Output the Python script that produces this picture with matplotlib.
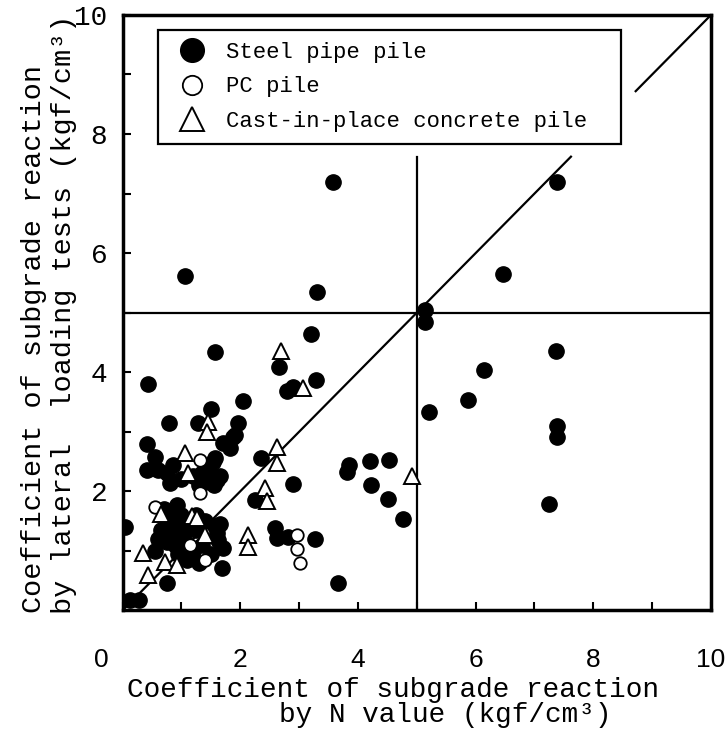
import matplotlib
matplotlib.use("Agg")
import matplotlib.pyplot as plt
from matplotlib.ticker import FixedLocator, FixedFormatter, MultipleLocator

# ---------------- data ----------------
steel_x = [3.58, 7.38, 1.07, 6.47, 3.30, 5.14, 5.14, 7.36, 6.15, 5.87, 5.20, 7.39, 7.39, 7.25,
           4.76, 4.51, 4.23, 4.53, 4.21, 3.84, 3.81, 3.67, 3.27, 2.89, 3.21, 1.57, 2.66, 3.29,
           2.79, 2.89, 2.04, 1.50, 1.97, 1.91, 1.71, 1.83, 1.88, 1.57, 2.35, 2.25, 2.59, 2.62,
           2.82,
           0.44, 0.79, 1.28, 0.41, 0.56, 0.86, 0.42, 0.61, 0.75, 0.81, 0.05, 1.69, 0.75, 0.12,
           0.28, 1.57, 1.63,
           1.20, 1.35, 1.48, 1.60, 1.40, 1.30, 1.55, 1.65, 1.45, 1.54, 1.00,
           0.70, 0.92, 0.85, 1.00, 0.65, 0.80, 0.95, 1.10, 1.25, 0.75, 0.90, 1.05, 1.20, 1.35,
           1.50, 1.30, 0.55, 0.95, 1.10, 1.60, 1.40, 0.60, 1.25, 0.85, 1.70, 1.65]
steel_y = [7.20, 7.20, 5.61, 5.65, 5.35, 5.05, 4.84, 4.35, 4.03, 3.53, 3.33, 3.10, 2.92, 1.78,
           1.54, 1.87, 2.11, 2.53, 2.51, 2.44, 2.33, 0.46, 1.20, 2.12, 4.65, 4.34, 4.09, 3.87,
           3.69, 3.75, 3.52, 3.38, 3.15, 2.95, 2.81, 2.72, 2.92, 2.56, 2.56, 1.86, 1.39, 1.21,
           1.24,
           3.80, 3.14, 3.15, 2.80, 2.57, 2.44, 2.36, 2.36, 2.30, 2.14, 1.40, 0.71, 0.46, 0.18,
           0.18, 1.41, 1.18,
           2.25, 2.30, 2.22, 2.19, 2.15, 2.10, 2.10, 2.25, 2.35, 2.50, 2.20,
           1.70, 1.77, 1.55, 1.60, 1.35, 1.40, 1.35, 1.40, 1.35, 1.15, 1.10, 1.20, 1.00, 1.10,
           0.95, 0.80, 1.00, 0.95, 0.85, 1.30, 1.50, 1.20, 1.60, 1.25, 1.05, 1.45]

pc_x = [0.55, 1.15, 1.32, 1.32, 2.96, 2.96, 3.02, 1.40]
pc_y = [1.74, 1.10, 2.53, 1.97, 1.27, 1.04, 0.79, 0.85]

cip_x = [2.69, 3.07, 1.46, 1.43, 2.63, 2.63, 2.42, 2.45, 2.14, 2.14, 4.92, 1.06, 1.12,
         1.18, 0.35, 0.44, 0.72, 0.92, 1.40, 1.26, 0.65]
cip_y = [4.35, 3.73, 3.17, 3.00, 2.75, 2.47, 2.05, 1.83, 1.27, 1.07, 2.25, 2.64, 2.30,
         1.58, 0.96, 0.60, 0.82, 0.76, 1.27, 1.55, 1.62]

series_labels = ["Steel pipe pile", "PC pile", "Cast-in-place concrete pile"]

x_major = [2, 4, 6, 8, 10]
x_major_labels = ["2", "4", "6", "8", "10"]
y_major = [2, 4, 6, 8, 10]
y_major_labels = ["2", "4", "6", "8", "10"]
origin_label = "0"

ref_level = 5.0          # horizontal / vertical reference value
vline_top = 7.62         # vertical reference line stops below the legend
diag_gap = (7.62, 8.72)  # diagonal hidden behind the legend box

xlabel_lines = ["Coefficient of subgrade reaction", "by N value (kgf/cm³)"]
ylabel_lines = ["Coefficient of subgrade reaction", "by lateral  loading tests (kgf/cm³)"]

# ---------------- figure ----------------
MONO = ["Liberation Mono", "DejaVu Sans Mono"]
SANS = ["Liberation Sans", "DejaVu Sans"]

fig = plt.figure(figsize=(7.25, 7.29), dpi=100)
ax = fig.add_axes([0.169, 0.1626, 0.8117, 0.8169])
ax.set_xlim(0, 10)
ax.set_ylim(0, 10)

# reference lines
ax.plot([0, 10], [ref_level, ref_level], color="black", lw=1.6, zorder=1)
ax.plot([ref_level, ref_level], [0, vline_top], color="black", lw=1.6, zorder=1)
ax.plot([0, diag_gap[0]], [0, diag_gap[0]], color="black", lw=1.6, zorder=1)
ax.plot([diag_gap[1], 10], [diag_gap[1], 10], color="black", lw=1.6, zorder=1)

# data
ax.plot(steel_x, steel_y, "o", ls="none", ms=11, color="black", mec="black",
        label=series_labels[0], zorder=3)
ax.plot(pc_x, pc_y, "o", ls="none", ms=9, mfc="white", mec="black", mew=1.3,
        label=series_labels[1], zorder=4)
ax.plot(cip_x, cip_y, "^", ls="none", ms=11, mfc="white", mec="black", mew=1.4,
        label=series_labels[2], zorder=5)

# spines & ticks
for s in ax.spines.values():
    s.set_linewidth(2.5)
ax.xaxis.set_major_locator(FixedLocator(x_major))
ax.xaxis.set_major_formatter(FixedFormatter(x_major_labels))
ax.yaxis.set_major_locator(FixedLocator(y_major))
ax.yaxis.set_major_formatter(FixedFormatter(y_major_labels))
ax.xaxis.set_minor_locator(MultipleLocator(1))
ax.yaxis.set_minor_locator(MultipleLocator(1))
ax.tick_params(which="both", direction="in", length=6, width=1.5, top=False, right=False)
ax.tick_params(axis="x", which="major", pad=27)
ax.tick_params(axis="y", which="major", pad=11)
for lab in ax.get_xticklabels():
    lab.set_fontfamily(SANS)
    lab.set_fontsize(19)
for lab in ax.get_yticklabels():
    lab.set_fontfamily(MONO)
    lab.set_fontsize(20)

ax.annotate(origin_label, xy=(0, 0), xycoords="data", xytext=(-15, -27),
            textcoords="offset points", ha="center", va="top",
            fontsize=19, family=SANS)

# legend
leg = ax.legend(loc="upper left", bbox_to_anchor=(0.0603, 0.785, 0.787, 0.19),
                mode="expand", borderaxespad=0, frameon=True, fancybox=False,
                prop={"family": MONO, "size": 16}, markerscale=1.55,
                handlelength=2.0, handletextpad=0.5, borderpad=0.55, labelspacing=0.6)
leg.get_frame().set_edgecolor("black")
leg.get_frame().set_linewidth(1.6)
leg.get_frame().set_facecolor("white")
leg.get_frame().set_alpha(1)

# axis labels
fig.text(127 / 725, 1 - 690 / 729, xlabel_lines[0], ha="left", va="center",
         fontsize=20, family=MONO)
fig.text(279 / 725, 1 - 715 / 729, xlabel_lines[1], ha="left", va="center",
         fontsize=20, family=MONO)
fig.text(34 / 725, 1 - 613 / 729, ylabel_lines[0], ha="center", va="bottom",
         rotation=90, fontsize=20.5, family=MONO)
fig.text(64 / 725, 1 - 614 / 729, ylabel_lines[1], ha="center", va="bottom",
         rotation=90, fontsize=20.5, family=MONO)

fig.savefig("out.png", dpi=100)
